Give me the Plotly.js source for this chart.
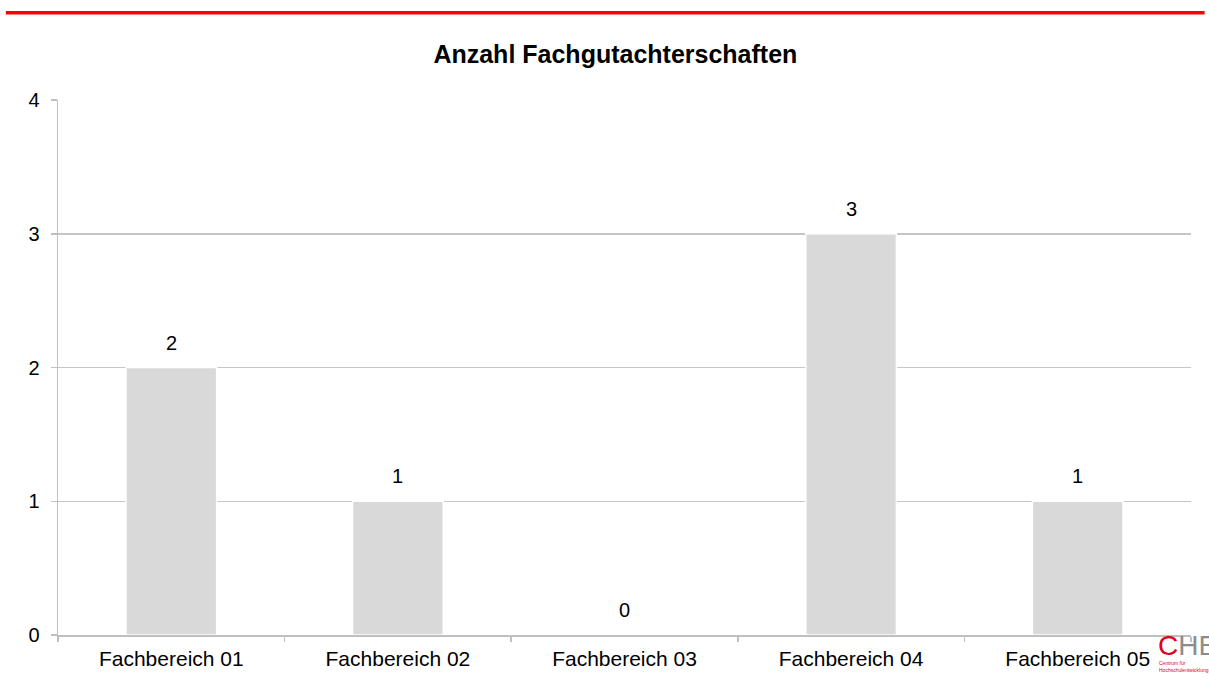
<!DOCTYPE html>
<html>
<head>
<meta charset="utf-8">
<script src="https://cdn.plot.ly/plotly-3.0.1.min.js"></script>
<style>
html,body{margin:0;padding:0;background:#fff;}
#chart{width:1209px;height:684px;}
</style>
</head>
<body>
<div id="chart"></div>
<script>
const categories = ["Fachbereich 01", "Fachbereich 02", "Fachbereich 03", "Fachbereich 04", "Fachbereich 05"];
const values = [2, 1, 0, 3, 1];
const yTicks = [0, 1, 2, 3, 4];
const chartTitle = "Anzahl Fachgutachterschaften";

const font = "Liberation Sans, Arial, sans-serif";

const trace = {
  type: "bar",
  x: categories,
  y: values,
  width: 0.4,
  marker: {color: "#d9d9d9", line: {color: "#ffffff", width: 1.5}},
  hoverinfo: "none"
};

const annotations = categories.map((c, i) => ({
  x: c, y: values[i], xref: "x", yref: "y",
  text: String(values[i]), showarrow: false,
  yanchor: "bottom", yshift: 12,
  font: {family: font, size: 20, color: "#000"}
}));

annotations.push({
  xref: "paper", yref: "paper", x: 1.0, y: 0.012, xanchor: "left", yanchor: "top",
  xshift: -34,
  text: "<span style='color:#e2001a'>C</span><span style='color:#8c8c8c'>HE</span>",
  showarrow: false, font: {family: font, size: 28}, borderpad: 0
});
annotations.push({
  xref: "paper", yref: "paper", x: 1.0, y: -0.044, xanchor: "left", yanchor: "top",
  xshift: -33, align: "left",
  text: "Centrum für<br>Hochschulentwicklung",
  showarrow: false, font: {family: font, size: 5, color: "#e2001a"}, borderpad: 0
});

const layout = {
  width: 1209, height: 684,
  margin: {l: 58, r: 18, t: 100, b: 49},
  paper_bgcolor: "#fff", plot_bgcolor: "#fff",
  title: {text: "<b>" + chartTitle + "</b>", font: {family: font, size: 25, color: "#000"},
          x: 0.509, xanchor: "center", y: 0.92, yanchor: "middle"},
  showlegend: false,
  bargap: 0.6,
  xaxis: {
    type: "category", tickson: "boundaries", ticks: "outside", ticklen: 5, tickcolor: "#bfbfbf", tickwidth: 1.5,
    showline: true, linecolor: "#bfbfbf", linewidth: 1.5, showgrid: false, zeroline: false,
    tickfont: {family: font, size: 21, color: "#000"}, ticklabelstandoff: 4, fixedrange: true
  },
  yaxis: {
    range: [0, 4], tickvals: yTicks, ticktext: yTicks.map(String),
    ticks: "outside", ticklen: 6, tickcolor: "#bfbfbf", tickwidth: 1.5,
    showline: true, linecolor: "#bfbfbf", linewidth: 1.5,
    showgrid: true, gridcolor: "#c6c6c6", gridwidth: 1.5, zeroline: false,
    tickfont: {family: font, size: 20, color: "#000"}, ticklabelstandoff: 7, fixedrange: true
  },
  annotations: annotations,
  shapes: [{type: "line", xref: "paper", yref: "paper", x0: -0.046, x1: 1.012, y0: 1.163, y1: 1.163,
            line: {color: "#ff0000", width: 3.5}}]
};

Plotly.newPlot("chart", [trace], layout, {displayModeBar: false, staticPlot: true});
</script>
</body>
</html>
